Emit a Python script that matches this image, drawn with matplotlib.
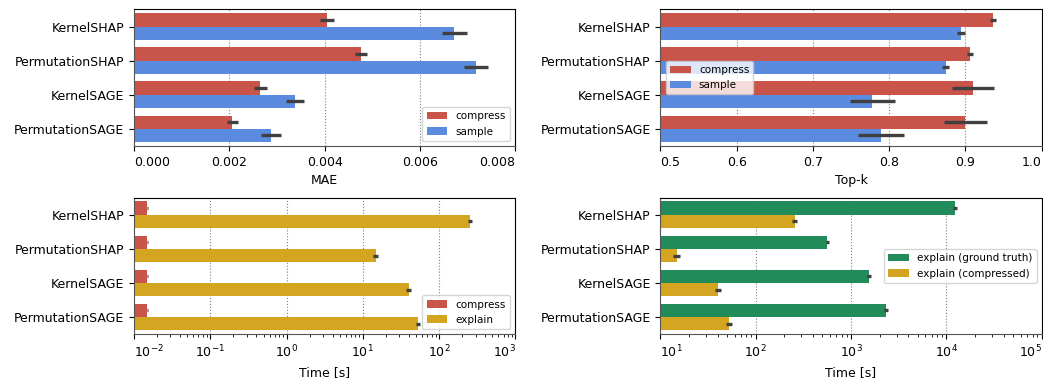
import numpy as np
import matplotlib.pyplot as plt

methods = ['KernelSHAP', 'PermutationSHAP', 'KernelSAGE', 'PermutationSAGE']

# MAE
mae_compress = [0.00405, 0.00476, 0.00265, 0.00206]
mae_compress_err = [0.00015, 0.00012, 0.00014, 0.00012]
mae_sample = [0.00672, 0.00718, 0.00338, 0.00288]
mae_sample_err = [0.00027, 0.00025, 0.00019, 0.00021]

# Top-k
topk_compress = [0.936, 0.906, 0.910, 0.900]
topk_compress_err = [0.0044, 0.0035, 0.028, 0.0287]
topk_sample = [0.894, 0.874, 0.778, 0.789]
topk_sample_err = [0.0057, 0.005, 0.0296, 0.030]

# time: compress vs explain
time_compress = [0.0150, 0.0150, 0.0150, 0.0150]
time_compress_err = [0.0004, 0.0004, 0.0004, 0.0004]
time_explain = [252, 14.7, 40.0, 52.5]
time_explain_err = [14, 1.3, 2.8, 3.5]

# time: ground truth vs compressed
time_gt = [12300, 566, 1553, 2338]
time_gt_err = [600, 25, 70, 110]
time_cmp = [256, 14.8, 40.6, 52.9]
time_cmp_err = [14, 1.3, 2.8, 3.5]

RED = '#c8544a'
BLUE = '#5b8bde'
GOLD = '#d4a520'
GREEN = '#218c5a'

plt.rcParams['font.size'] = 9


def bars(ax, v1, e1, c1, l1, v2, e2, c2, l2):
    y = np.arange(len(methods))
    h = 0.39
    kw = dict(ecolor='#404040', error_kw=dict(elinewidth=2.4, capsize=0), zorder=2)
    ax.barh(y - h / 2, v1, h, xerr=e1, color=c1, label=l1, **kw)
    ax.barh(y + h / 2, v2, h, xerr=e2, color=c2, label=l2, **kw)
    ax.set_yticks(y)
    ax.set_yticklabels(methods)
    ax.set_ylim(3.5, -0.5)
    ax.grid(axis='x', linestyle=':', color='gray', linewidth=0.8, zorder=0)
    ax.set_axisbelow(True)
    for s in ['left', 'bottom']:
        ax.spines[s].set_color('#555555')


fig, axes = plt.subplots(2, 2, figsize=(10.43, 3.78), dpi=100)
fig.subplots_adjust(left=0.1285, right=0.9988, top=0.975, bottom=0.116,
                    wspace=0.38, hspace=0.38)

ax = axes[0, 0]
bars(ax, mae_compress, mae_compress_err, RED, 'compress',
     mae_sample, mae_sample_err, BLUE, 'sample')
ax.set_xlim(0, 0.008)
ax.set_xticks([0, 0.002, 0.004, 0.006, 0.008])
ax.set_xlabel('MAE')
ax.legend(loc='lower right', fontsize=7.5)

ax = axes[0, 1]
bars(ax, topk_compress, topk_compress_err, RED, 'compress',
     topk_sample, topk_sample_err, BLUE, 'sample')
ax.set_xlim(0.5, 1.0)
ax.set_xlabel('Top-k')
ax.legend(loc='center left', fontsize=7.5)

ax = axes[1, 0]
bars(ax, time_compress, time_compress_err, RED, 'compress',
     time_explain, time_explain_err, GOLD, 'explain')
ax.set_xscale('log')
ax.set_xlim(1e-2, 1e3)
ax.set_xlabel('Time [s]')
ax.legend(loc='lower right', fontsize=7.5)

ax = axes[1, 1]
bars(ax, time_gt, time_gt_err, GREEN, 'explain (ground truth)',
     time_cmp, time_cmp_err, GOLD, 'explain (compressed)')
ax.set_xscale('log')
ax.set_xlim(1e1, 1e5)
ax.set_xlabel('Time [s]')
ax.legend(loc='center right', fontsize=7.5)

# keep the outer tick labels inside the axis span
fig.canvas.draw()
for ax in axes.flat:
    lo, hi = ax.get_xlim()
    for lab in ax.get_xticklabels():
        x = lab.get_position()[0]
        if np.isclose(x, lo):
            lab.set_horizontalalignment('left')
        elif np.isclose(x, hi):
            lab.set_horizontalalignment('right')

fig.savefig('out.png', dpi=100)
